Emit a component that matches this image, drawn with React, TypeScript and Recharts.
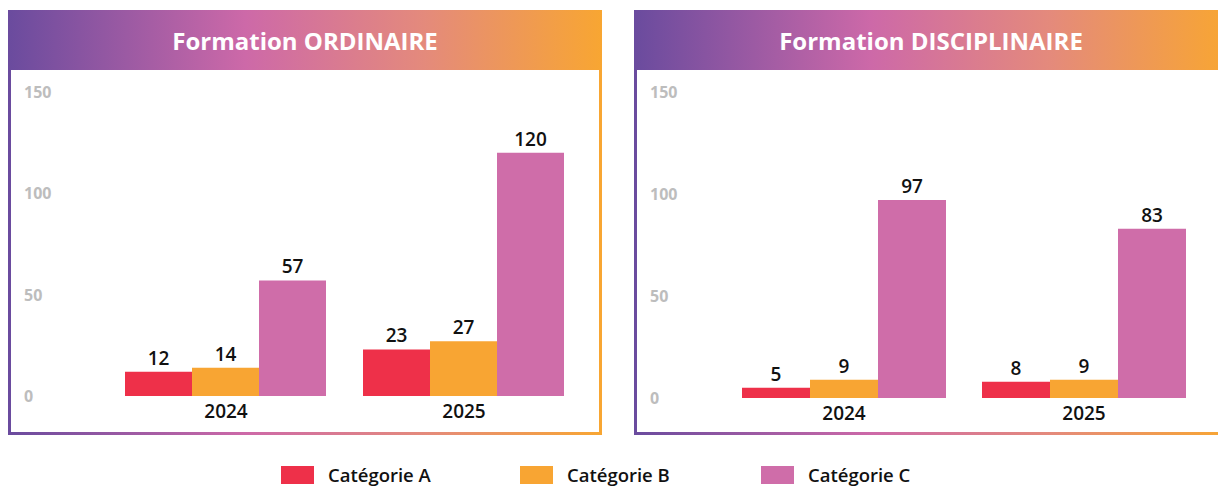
import React from "react";
import { BarChart, Bar, XAxis, YAxis, LabelList } from "recharts";

const years = ["2024", "2025"];
const ordinaireA = [12, 23];
const ordinaireB = [14, 27];
const ordinaireC = [57, 120];
const disciplinaireA = [5, 8];
const disciplinaireB = [9, 9];
const disciplinaireC = [97, 83];
const yTicks = [0, 50, 100, 150];

const seriesNames = ["Catégorie A", "Catégorie B", "Catégorie C"];
const COLORS = ["#ee3049", "#f8a533", "#cf6da9"];

const GRADIENT = "linear-gradient(90deg, #6a4b9e 0%, #cd69a8 40%, #e48a7c 70%, #f8a632 100%)";
const FONT = "'Open Sans', sans-serif";

const buildRows = (a: number[], b: number[], c: number[]) =>
  years.map((year, i) => ({ year, a: a[i], b: b[i], c: c[i] }));

const YTick = (props: any) => {
  const { y, payload } = props;
  return (
    <text x={16} y={y} dominantBaseline="central" textAnchor="start" fill="#bdbdbd" fontSize={16} fontWeight={700} fontFamily={FONT}>
      {payload.value}
    </text>
  );
};

const XTick = (props: any) => {
  const { x, y, payload } = props;
  return (
    <text x={x} y={y + 7} dominantBaseline="central" textAnchor="middle" fill="#111" fontSize={19} fontWeight={600} fontFamily={FONT}>
      {payload.value}
    </text>
  );
};

interface PanelProps {
  title: string;
  left: number;
  data: any[];
  yWidth: number;
  marginRight: number;
  marginBottom: number;
  showRightBorder: boolean;
}

const Panel: React.FC<PanelProps> = ({ title, left, data, yWidth, marginRight, marginBottom, showRightBorder }) => {
  const width = 594;
  return (
    <div style={{ position: "absolute", left, top: 10, width, height: 425 }}>
      <div
        style={{
          position: "absolute", left: 0, top: 0, width, height: 60, background: GRADIENT,
          color: "#fff", fontFamily: FONT, fontWeight: 700, fontSize: 24,
          display: "flex", alignItems: "center", justifyContent: "center",
        }}
      >
        {title}
      </div>
      <div style={{ position: "absolute", left: 0, top: 60, width: 3, height: 365, background: "#6a4b9e" }} />
      {showRightBorder && <div style={{ position: "absolute", right: 0, top: 60, width: 3, height: 365, background: "#f8a632" }} />}
      <div style={{ position: "absolute", left: 0, top: 422, width, height: 3, background: GRADIENT }} />
      <div style={{ position: "absolute", left: 0, top: 60 }}>
        <BarChart
          width={width}
          height={362}
          data={data}
          margin={{ top: 22, right: marginRight, left: 0, bottom: marginBottom }}
          barCategoryGap={18}
          barGap={0}
        >
          <XAxis dataKey="year" axisLine={false} tickLine={false} tick={<XTick />} height={30} />
          <YAxis domain={[0, 150]} ticks={yTicks} axisLine={false} tickLine={false} tick={<YTick />} width={yWidth} />
          {["a", "b", "c"].map((key, i) => (
            <Bar key={key} dataKey={key} name={seriesNames[i]} fill={COLORS[i]} isAnimationActive={false}>
              <LabelList dataKey={key} position="top" offset={7} fill="#111" fontSize={19} fontWeight={600} fontFamily={FONT} />
            </Bar>
          ))}
        </BarChart>
      </div>
    </div>
  );
};

export default function App() {
  const ordinaire = buildRows(ordinaireA, ordinaireB, ordinaireC);
  const disciplinaire = buildRows(disciplinaireA, disciplinaireB, disciplinaireC);
  const legendX = [281, 520, 761];
  return (
    <div style={{ position: "absolute", left: 0, top: 0, width: 1218, height: 488, overflow: "hidden", background: "#fff" }}>
      <Panel title="Formation ORDINAIRE" left={8} data={ordinaire} yWidth={99} marginRight={19} marginBottom={6} showRightBorder />
      <Panel title="Formation DISCIPLINAIRE" left={634} data={disciplinaire} yWidth={90} marginRight={24} marginBottom={4} showRightBorder={false} />
      {seriesNames.map((name, i) => (
        <div key={name} style={{ position: "absolute", left: legendX[i], top: 464, height: 22, display: "flex", alignItems: "center" }}>
          <div style={{ width: 33, height: 18, background: COLORS[i] }} />
          <span style={{ marginLeft: 14, fontFamily: FONT, fontWeight: 600, fontSize: 18.5, lineHeight: "22px", color: "#111" }}>{name}</span>
        </div>
      ))}
    </div>
  );
}
